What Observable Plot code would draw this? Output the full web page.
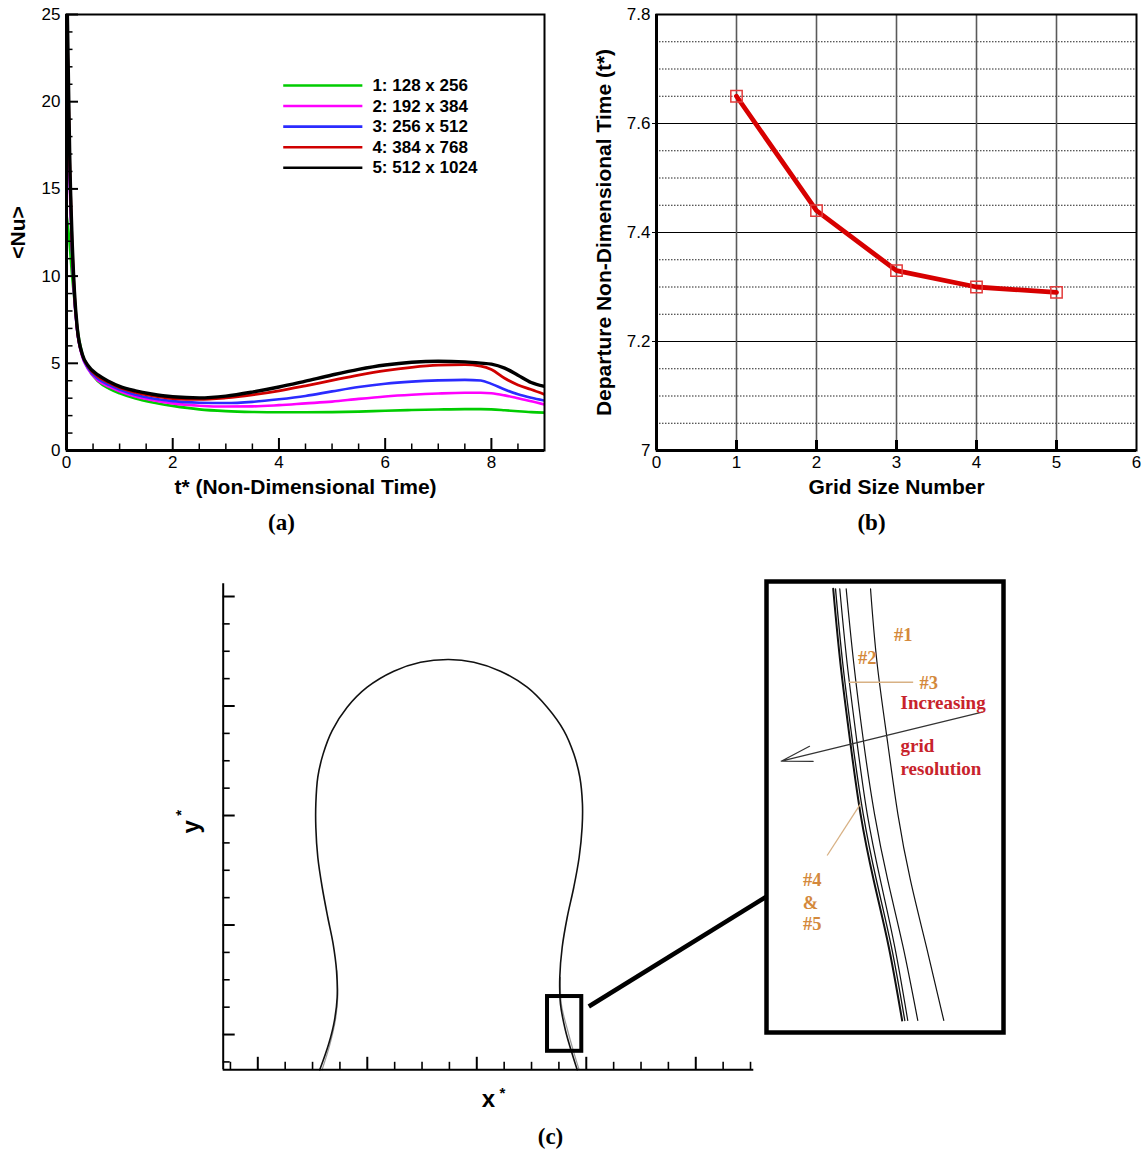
<!DOCTYPE html>
<html><head><meta charset="utf-8">
<script src="https://cdn.jsdelivr.net/npm/d3@7"></script>
<script src="https://cdn.jsdelivr.net/npm/@observablehq/plot@0.6"></script>
<style>
body{margin:0;background:#fff;}
#root{position:relative;width:1143px;height:1154px;overflow:hidden;background:#fff;}
</style></head><body><div id="root"></div>
<script>
// ---------- Panel (a) data ----------
const tGrid = [0, 0.03, 0.06, 0.1, 0.15, 0.2, 0.3, 0.4, 0.6, 0.8, 1.0, 1.3, 1.6, 2.0, 2.5, 3.0, 3.5, 4.0, 4.5, 5.0, 5.5, 6.0, 6.5, 7.0, 7.5, 7.8, 8.0, 8.25, 8.5, 8.75, 9.0];
const nu1 = [13.5, 12.8, 11.8, 10.2, 8.6, 7.1, 5.5, 4.75, 3.95, 3.55, 3.28, 2.98, 2.77, 2.56, 2.36, 2.26, 2.21, 2.19, 2.19, 2.2, 2.23, 2.28, 2.32, 2.35, 2.37, 2.37, 2.36, 2.31, 2.25, 2.2, 2.17];
const nu2 = [20, 18, 15.2, 11.7, 8.6, 6.9, 5.35, 4.7, 4.0, 3.66, 3.4, 3.1, 2.9, 2.7, 2.57, 2.52, 2.53, 2.6, 2.7, 2.8, 2.96, 3.1, 3.2, 3.27, 3.31, 3.31, 3.28, 3.16, 3.0, 2.83, 2.64];
const nu3 = [24, 20, 15.8, 11.9, 8.7, 6.9, 5.4, 4.75, 4.1, 3.76, 3.5, 3.2, 3.0, 2.83, 2.74, 2.72, 2.79, 2.94, 3.13, 3.39, 3.64, 3.83, 3.95, 4.02, 4.05, 4.01, 3.82, 3.5, 3.22, 3.02, 2.86];
const nu4 = [26, 21.5, 16.5, 12.2, 8.9, 7.0, 5.45, 4.85, 4.22, 3.88, 3.6, 3.33, 3.14, 2.98, 2.93, 3.02, 3.19, 3.42, 3.71, 4.02, 4.32, 4.58, 4.77, 4.89, 4.92, 4.84, 4.64, 4.14, 3.76, 3.5, 3.22];
const nu5 = [28, 22.5, 17, 12.6, 9.1, 7.1, 5.5, 4.9, 4.32, 3.96, 3.68, 3.42, 3.24, 3.08, 3.02, 3.12, 3.35, 3.64, 3.98, 4.33, 4.65, 4.9, 5.06, 5.12, 5.08, 5.01, 4.95, 4.72, 4.32, 3.9, 3.68];
const legendLabels = ["1: 128 x 256", "2: 192 x 384", "3: 256 x 512", "4: 384 x 768", "5: 512 x 1024"];
const seriesColors = ["#00cc00", "#ff00ff", "#2b2bff", "#d00000", "#000000"];
const tTicks = [0, 2, 4, 6, 8];
const tMinorTicks = [0.5, 1, 1.5, 2.5, 3, 3.5, 4.5, 5, 5.5, 6.5, 7, 7.5, 8.5];
const nuTicks = [0, 5, 10, 15, 20, 25];
const nuMinorTicks = [1,2,3,4,6,7,8,9,11,12,13,14,16,17,18,19,21,22,23,24];

// ---------- Panel (b) data ----------
const gridSize = [1, 2, 3, 4, 5];
const departureTime = [7.65, 7.44, 7.33, 7.30, 7.29];
const gridTicks = [0, 1, 2, 3, 4, 5, 6];
const departureTicks = [7, 7.2, 7.4, 7.6, 7.8];
const departureMinor = [7.05, 7.1, 7.15, 7.25, 7.3, 7.35, 7.45, 7.5, 7.55, 7.65, 7.7, 7.75];

// ---------- Panel (c) data ----------
const bubbleX = [0.566, 0.648, 0.700, 0.725, 0.719, 0.688, 0.639, 0.588, 0.548, 0.530, 0.530, 0.548, 0.597, 0.679, 0.816, 0.999, 1.242, 1.486, 1.744, 1.973, 2.216, 2.460, 2.643, 2.795, 2.886, 2.941, 2.965, 2.962, 2.935, 2.886, 2.826, 2.780, 2.758, 2.764, 2.810, 2.871, 2.917];
const bubbleY = [-0.322, -0.085, 0.128, 0.341, 0.584, 0.828, 1.071, 1.345, 1.619, 1.893, 2.107, 2.350, 2.563, 2.776, 2.989, 3.172, 3.318, 3.400, 3.425, 3.400, 3.318, 3.172, 2.989, 2.776, 2.563, 2.350, 2.107, 1.893, 1.619, 1.345, 1.071, 0.797, 0.523, 0.280, 0.037, -0.176, -0.322];
const leftGhostX = [0.587, 0.660, 0.708, 0.730, 0.722];
const leftGhostY = [-0.322, -0.085, 0.128, 0.341, 0.584];
const rightGhostX = [2.764, 2.772, 2.830, 2.890, 2.935];
const rightGhostY = [0.523, 0.280, 0.037, -0.176, -0.322];
const xStarMajor = [0, 1, 2, 3, 4];
const xStarMinor = [-0.25, 0.25, 0.5, 0.75, 1.25, 1.5, 1.75, 2.25, 2.5, 2.75, 3.25, 3.5, 3.75, 4.25, 4.5];
const yStarMajor = [0, 1, 2, 3, 4];
const yStarMinor = [-0.25, 0.25, 0.5, 0.75, 1.25, 1.5, 1.75, 2.25, 2.5, 2.75, 3.25, 3.5, 3.75];
const zoomBox = {x1: 2.646, x2: 2.959, y1: -0.153, y2: 0.347};
const connector = {x1: 3.023, y1: 0.256, x2: 4.652, y2: 1.263};

// inset (magnified) interfaces, in x*, y* units
const insetY = [0.3476, 0.2615, 0.1696, 0.0892, 0.0126, -0.0640, -0.1482];
const grid5X = [2.7356, 2.7457, 2.7596, 2.7735, 2.7919, 2.8128, 2.8313];
const grid4X = [2.7388, 2.7489, 2.7628, 2.7772, 2.7957, 2.8165, 2.8350];
const grid3X = [2.7447, 2.7550, 2.7689, 2.7828, 2.8012, 2.8211, 2.8391];
const grid2X = [2.7536, 2.7642, 2.7781, 2.7929, 2.8114, 2.8327, 2.8530];
const grid1X = [2.7874, 2.7966, 2.8114, 2.8253, 2.8429, 2.8651, 2.8891];
const tagLabels = ["#1", "#2", "#3", "#4", "&", "#5"];
const tagX = [2.8327, 2.7828, 2.8683, 2.7064, 2.7041, 2.7064];
const tagY = [0.294, 0.2684, 0.2395, 0.0126, -0.0135, -0.0372];
const noteLabels = ["Increasing", "grid", "resolution"];
const noteX = [2.829, 2.829, 2.829];
const noteY = [0.2165, 0.1676, 0.1409];
const leaders = [{x1: 2.7572, y1: 0.2403, x2: 2.8466, y2: 0.2403}, {x1: 2.7272, y1: 0.0413, x2: 2.7735, y2: 0.1007}];
const resolutionArrow = {x1: 2.9424, y1: 0.2059, x2: 2.6634, y2: 0.1496};

// ---------- helpers ----------
const root = document.getElementById("root");
function place(node, left, top) {
  const d = document.createElement("div");
  d.style.position = "absolute"; d.style.left = left + "px"; d.style.top = top + "px";
  d.appendChild(node); root.appendChild(d);
}
const SANS = "'Liberation Sans', Arial, Helvetica, sans-serif";
const SERIF = "'Liberation Serif', 'Times New Roman', serif";
const baseStyle = {fontFamily: SANS, fontSize: "17px", background: "transparent", overflow: "visible", color: "#000"};

// ---------- Panel (a) ----------
{
  const A = {w: 570, h: 545, ml: 66, mr: 26, mt: 14, mb: 95};
  const fw = A.w - A.ml - A.mr, fh = A.h - A.mt - A.mb;
  const series = [nu1, nu2, nu3, nu4, nu5];
  const widths = [2.6, 2.6, 2.6, 2.8, 3.4];
  const lines = series.map((vals, s) => Plot.line(tGrid.map((t, i) => ({t, nu: vals[i]})),
    {x: "t", y: "nu", stroke: seriesColors[s], strokeWidth: widths[s], curve: "monotone-x", clip: true}));
  const legend = legendLabels.flatMap((label, i) => {
    const row = {label, y: 20.93 - 1.18 * i};
    return [
      Plot.ruleY([row], {y: "y", x1: () => 4.09, x2: () => 5.58, stroke: seriesColors[i], strokeWidth: 2.6}),
      Plot.text([row], {x: () => 5.76, y: "y", text: "label", textAnchor: "start", fontSize: 17, fontWeight: "bold", fill: "#000"})
    ];
  });
  const p = Plot.plot({
    width: A.w, height: A.h, marginLeft: A.ml, marginRight: A.mr, marginTop: A.mt, marginBottom: A.mb,
    x: {domain: [0, 9]}, y: {domain: [0, 25]}, style: baseStyle,
    marks: [
      ...lines, ...legend,
      Plot.ruleX(tMinorTicks, {x: d => d, insetTop: fh - 6.5, strokeWidth: 1.5}),
      Plot.ruleX(tTicks, {x: d => d, insetTop: fh - 12, strokeWidth: 2}),
      Plot.ruleY(nuMinorTicks, {y: d => d, insetRight: fw - 6.5, strokeWidth: 1.5}),
      Plot.ruleY(nuTicks, {y: d => d, insetRight: fw - 12, strokeWidth: 2}),
      Plot.frame({strokeWidth: 2}),
      Plot.ruleX([0], {strokeWidth: 3}), Plot.ruleY([0], {strokeWidth: 3}),
      Plot.axisX({ticks: tTicks, tickFormat: d => String(d), tickSize: 0, tickPadding: 5, fontSize: 17, label: null}),
      Plot.axisY({ticks: nuTicks, tickFormat: d => String(d), tickSize: 0, tickPadding: 6, fontSize: 17, label: null}),
      Plot.text(["t* (Non-Dimensional Time)"], {text: d => d, frameAnchor: "bottom", textAnchor: "middle", dy: 43, fontSize: 21, fontWeight: "bold"}),
      Plot.text(["<Nu>"], {text: d => d, frameAnchor: "left", textAnchor: "middle", dx: -48, rotate: -90, fontSize: 21, fontWeight: "bold"}),
      Plot.text(["(a)"], {text: d => d, frameAnchor: "bottom", textAnchor: "middle", dx: -24, dy: 79, fontSize: 23, fontWeight: "bold", fontFamily: SERIF})
    ]
  });
  place(p, 0, 0);
}

// ---------- Panel (b) ----------
{
  const B = {w: 573, h: 545, ml: 86, mr: 7, mt: 14, mb: 95};
  const fh = B.h - B.mt - B.mb;
  const rows = gridSize.map((g, i) => ({g, t: departureTime[i]}));
  const p = Plot.plot({
    width: B.w, height: B.h, marginLeft: B.ml, marginRight: B.mr, marginTop: B.mt, marginBottom: B.mb,
    x: {domain: [0, 6]}, y: {domain: [7, 7.8]}, style: baseStyle,
    marks: [
      Plot.ruleY(departureMinor, {y: d => d, stroke: "#222", strokeWidth: 1, strokeDasharray: "1.5,1.5"}),
      Plot.ruleY([7.2, 7.4, 7.6], {y: d => d, stroke: "#000", strokeWidth: 1.2, insetLeft: -4}),
      Plot.ruleX(gridSize, {x: d => d, stroke: "#5a5a5a", strokeWidth: 1.6}),
      Plot.ruleX(gridSize, {x: d => d, stroke: "#000", strokeWidth: 3, insetTop: fh - 10}),
      Plot.line(rows, {x: "g", y: "t", stroke: "#d70000", strokeWidth: 4.8}),
      Plot.dot(rows, {x: "g", y: "t", symbol: "square", r: 6.4, stroke: "#e23b3b", strokeWidth: 1.5, fill: "none"}),
      Plot.frame({strokeWidth: 2}),
      Plot.ruleX([0], {strokeWidth: 3}), Plot.ruleY([7], {strokeWidth: 3}),
      Plot.axisX({ticks: gridTicks, tickFormat: d => String(d), tickSize: 0, tickPadding: 5, fontSize: 17, label: null}),
      Plot.axisY({ticks: departureTicks, tickFormat: d => String(d), tickSize: 0, tickPadding: 6, fontSize: 17, label: null}),
      Plot.text(["Grid Size Number"], {text: d => d, frameAnchor: "bottom", textAnchor: "middle", dy: 43, fontSize: 21, fontWeight: "bold"}),
      Plot.text(["Departure Non-Dimensional Time (t*)"], {text: d => d, frameAnchor: "left", textAnchor: "middle", dx: -52, rotate: -90, fontSize: 21, fontWeight: "bold"}),
      Plot.text(["(b)"], {text: d => d, frameAnchor: "bottom", textAnchor: "middle", dx: -25, dy: 79, fontSize: 23, fontWeight: "bold", fontFamily: SERIF})
    ]
  });
  place(p, 570, 0);
}

// ---------- Panel (c) ----------
{
  const C = {w: 993, h: 594, ml: 72.7, mr: 389.7, mt: 23.3, mb: 84.7};
  const fw = C.w - C.ml - C.mr, fh = C.h - C.mt - C.mb;
  const xDom = [-0.316, 4.53], yDom = [-0.322, 4.116];
  const bubble = bubbleX.map((x, i) => ({x, y: bubbleY[i]}));
  const lg = leftGhostX.map((x, i) => ({x, y: leftGhostY[i]}));
  const rg = rightGhostX.map((x, i) => ({x, y: rightGhostY[i]}));
  const p = Plot.plot({
    width: C.w, height: C.h, marginLeft: C.ml, marginRight: C.mr, marginTop: C.mt, marginBottom: C.mb,
    x: {domain: xDom, axis: null}, y: {domain: yDom, axis: null}, style: baseStyle,
    marks: [
      Plot.line(lg, {x: "x", y: "y", curve: "catmull-rom", stroke: "#999", strokeWidth: 1.2}),
      Plot.line(rg, {x: "x", y: "y", curve: "catmull-rom", stroke: "#999", strokeWidth: 1.2}),
      Plot.line(bubble, {x: "x", y: "y", curve: "catmull-rom", stroke: "#111", strokeWidth: 1.6}),
      Plot.rect([zoomBox], {x1: "x1", x2: "x2", y1: "y1", y2: "y2", fill: "none", stroke: "#000", strokeWidth: 4}),
      Plot.link([connector], {x1: "x1", y1: "y1", x2: "x2", y2: "y2", stroke: "#000", strokeWidth: 4.5}),
      Plot.ruleX(xStarMinor, {x: d => d, insetTop: fh - 7.5, strokeWidth: 1.6}),
      Plot.ruleX(xStarMajor, {x: d => d, insetTop: fh - 12.5, strokeWidth: 2}),
      Plot.ruleY(yStarMinor, {y: d => d, insetRight: fw - 7, strokeWidth: 1.6}),
      Plot.ruleY(yStarMajor, {y: d => d, insetRight: fw - 12, strokeWidth: 2}),
      Plot.ruleX([xDom[0]], {strokeWidth: 2}),
      Plot.ruleY([yDom[0]], {strokeWidth: 2}),
      Plot.text(["x"], {text: d => d, frameAnchor: "bottom", textAnchor: "middle", dy: 37, fontSize: 24, fontWeight: "bold"}),
      Plot.text(["*"], {text: d => d, frameAnchor: "bottom", textAnchor: "middle", dx: 14, dy: 28, fontSize: 15, fontWeight: "bold"}),
      Plot.text(["y"], {text: d => d, frameAnchor: "left", textAnchor: "middle", dx: -32, rotate: -90, fontSize: 24, fontWeight: "bold"}),
      Plot.text(["*"], {text: d => d, frameAnchor: "left", textAnchor: "middle", dx: -42, dy: -14, rotate: -90, fontSize: 15, fontWeight: "bold"}),
      Plot.text(["(c)"], {text: d => d, frameAnchor: "bottom", textAnchor: "middle", dx: 62, dy: 74, fontSize: 23, fontWeight: "bold", fontFamily: SERIF})
    ]
  });
  place(p, 150, 560);
}

// ---------- Inset ----------
{
  const I = {w: 250, h: 462, ml: 6, mr: 7, mt: 6, mb: 5};
  const mk = xs => xs.map((x, i) => ({x, y: insetY[i]}));
  const lineSpec = [[grid1X, 1.2], [grid2X, 1.2], [grid3X, 1.2], [grid4X, 1.3], [grid5X, 2.0]];
  const tags = tagLabels.map((t, i) => ({t, x: tagX[i], y: tagY[i]}));
  const notes = noteLabels.map((t, i) => ({t, x: noteX[i], y: noteY[i]}));
  const p = Plot.plot({
    width: I.w, height: I.h, marginLeft: I.ml, marginRight: I.mr, marginTop: I.mt, marginBottom: I.mb,
    x: {domain: [2.643, 2.972], axis: null}, y: {domain: [-0.162, 0.356], axis: null}, style: baseStyle,
    marks: [
      ...lineSpec.map(([xs, w]) => Plot.line(mk(xs), {x: "x", y: "y", curve: "natural", stroke: "#111", strokeWidth: w})),
      Plot.link(leaders, {x1: "x1", y1: "y1", x2: "x2", y2: "y2", stroke: "#d8b184", strokeWidth: 1.3}),
      Plot.arrow([resolutionArrow], {x1: "x1", y1: "y1", x2: "x2", y2: "y2", stroke: "#333", strokeWidth: 1.2, headLength: 40, headAngle: 28}),
      Plot.text(tags, {x: "x", y: "y", text: "t", fill: "#d4893c", fontFamily: SERIF, fontWeight: "bold", fontSize: 18.5}),
      Plot.text(notes, {x: "x", y: "y", text: "t", textAnchor: "start", fill: "#c8232c", fontFamily: SERIF, fontWeight: "bold", fontSize: 19}),
      Plot.frame({strokeWidth: 4.5})
    ]
  });
  place(p, 760, 575);
}
</script></body></html>
